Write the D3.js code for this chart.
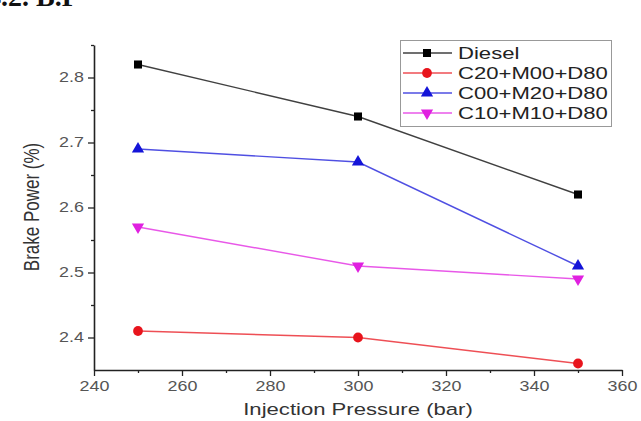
<!DOCTYPE html>
<html>
<head>
<meta charset="utf-8">
<script src="https://cdn.jsdelivr.net/npm/d3@7"></script>
<style>
  body { margin: 0; background: #fff; }
  svg { display: block; font-family: "Liberation Sans", Arial, sans-serif; }
</style>
</head>
<body>
<script>
var svgWidth = 641;
var svgHeight = 421;

// data
var pressures = [250, 300, 350];
var seriesNames = ["Diesel", "C20+M00+D80", "C00+M20+D80", "C10+M10+D80"];
var diesel = [2.82, 2.74, 2.62];
var c20m00 = [2.41, 2.40, 2.36];
var c00m20 = [2.69, 2.67, 2.51];
var c10m10 = [2.57, 2.51, 2.49];
var xMajor = [240, 260, 280, 300, 320, 340, 360];
var xMinor = [250, 270, 290, 310, 330, 350];
var yMajor = [2.4, 2.5, 2.6, 2.7, 2.8];
var yMinor = [2.45, 2.55, 2.65, 2.75, 2.85];

var colors = ["#000000", "#e8141c", "#1414d8", "#e020e0"];
var shapes = [d3.symbolSquare, d3.symbolCircle, d3.symbolTriangle, d3.symbolTriangle];
var allSeries = [diesel, c20m00, c00m20, c10m10];

var stretch = 1.28; // the picture is widened sideways

var svg = d3.select("body").append("svg")
  .attr("width", svgWidth)
  .attr("height", svgHeight);

// cut-off heading at the top
svg.append("text")
  .attr("x", -13)
  .attr("y", 6)
  .attr("font-family", "Liberation Serif, Times New Roman, serif")
  .attr("font-weight", "bold")
  .attr("font-size", 28)
  .attr("fill", "#111")
  .text("4.2. B.P");

var x = d3.scaleLinear().domain([240, 360]).range([94, 622]);
var y = d3.scaleLinear().domain([2.35, 2.85]).range([370, 45]);

// minor ticks
svg.append("g")
  .attr("transform", "translate(0,370)")
  .call(d3.axisBottom(x).tickValues(xMinor).tickSize(3).tickSizeOuter(0).tickFormat(""))
  .call(g => g.select(".domain").remove())
  .call(g => g.selectAll("line").attr("stroke", "#222").attr("stroke-width", 1.3));

svg.append("g")
  .attr("transform", "translate(94,0)")
  .call(d3.axisLeft(y).tickValues(yMinor).tickSize(3).tickSizeOuter(0).tickFormat(""))
  .call(g => g.select(".domain").remove())
  .call(g => g.selectAll("line").attr("stroke", "#222").attr("stroke-width", 1.3));

// major axes
var xAxis = svg.append("g")
  .attr("transform", "translate(0,370)")
  .call(d3.axisBottom(x).tickValues(xMajor).tickSize(6).tickSizeOuter(0).tickPadding(5));

var yAxis = svg.append("g")
  .attr("transform", "translate(94,0)")
  .call(d3.axisLeft(y).tickValues(yMajor).tickSize(6).tickSizeOuter(0).tickPadding(5)
    .tickFormat(d3.format(".1f")));

[xAxis, yAxis].forEach(function(ax) {
  ax.select(".domain").attr("stroke", "#222").attr("stroke-width", 1.6);
  ax.selectAll(".tick line").attr("stroke", "#222").attr("stroke-width", 1.3);
  ax.selectAll(".tick text")
    .attr("font-size", 14)
    .attr("fill", "#555")
    .attr("font-family", "Liberation Sans, Arial, sans-serif")
    .attr("transform", "scale(" + stretch + ",1)");
});
yAxis.selectAll(".tick text").attr("x", -10 / stretch);

// axis titles
svg.append("text")
  .attr("transform", "translate(358,415) scale(1.3,1)")
  .attr("text-anchor", "middle")
  .attr("font-size", 17)
  .attr("fill", "#333")
  .text("Injection Pressure (bar)");

svg.append("text")
  .attr("transform", "translate(39,207) scale(1.3,1) rotate(-90)")
  .attr("text-anchor", "middle")
  .attr("font-size", 17)
  .attr("fill", "#333")
  .text("Brake Power (%)");

// lines and markers
var line = d3.line()
  .x((d, i) => x(pressures[i]))
  .y(d => y(d));

allSeries.forEach(function(vals, s) {
  svg.append("path")
    .datum(vals)
    .attr("fill", "none")
    .attr("stroke", colors[s])
    .attr("stroke-opacity", 0.75)
    .attr("stroke-width", 1.4)
    .attr("d", line);

  svg.selectAll(".m" + s)
    .data(vals)
    .enter()
    .append("path")
    .attr("class", "m" + s)
    .attr("d", d3.symbol().type(shapes[s]).size(s === 1 ? 75 : 65))
    .attr("fill", colors[s])
    .attr("transform", (d, i) => "translate(" + x(pressures[i]) + "," + y(d) + ")" + (s === 3 ? " rotate(180)" : ""));
});

// legend
var legend = svg.append("g");
legend.append("rect")
  .attr("x", 400.5)
  .attr("y", 40.5)
  .attr("width", 211)
  .attr("height", 86)
  .attr("fill", "#fff")
  .attr("stroke", "#999")
  .attr("stroke-width", 1);

seriesNames.forEach(function(name, s) {
  var ly = 53 + s * 20;
  legend.append("line")
    .attr("x1", 403).attr("x2", 452)
    .attr("y1", ly).attr("y2", ly)
    .attr("stroke", colors[s])
    .attr("stroke-opacity", 0.75)
    .attr("stroke-width", 1.4);
  legend.append("path")
    .attr("d", d3.symbol().type(shapes[s]).size(s === 1 ? 75 : 65))
    .attr("fill", colors[s])
    .attr("transform", "translate(427," + ly + ")" + (s === 3 ? " rotate(180)" : ""));
  legend.append("text")
    .attr("transform", "translate(458," + (ly + 6) + ") scale(1.3,1)")
    .attr("font-size", 17)
    .attr("fill", "#222")
    .text(name);
});
</script>
</body>
</html>
